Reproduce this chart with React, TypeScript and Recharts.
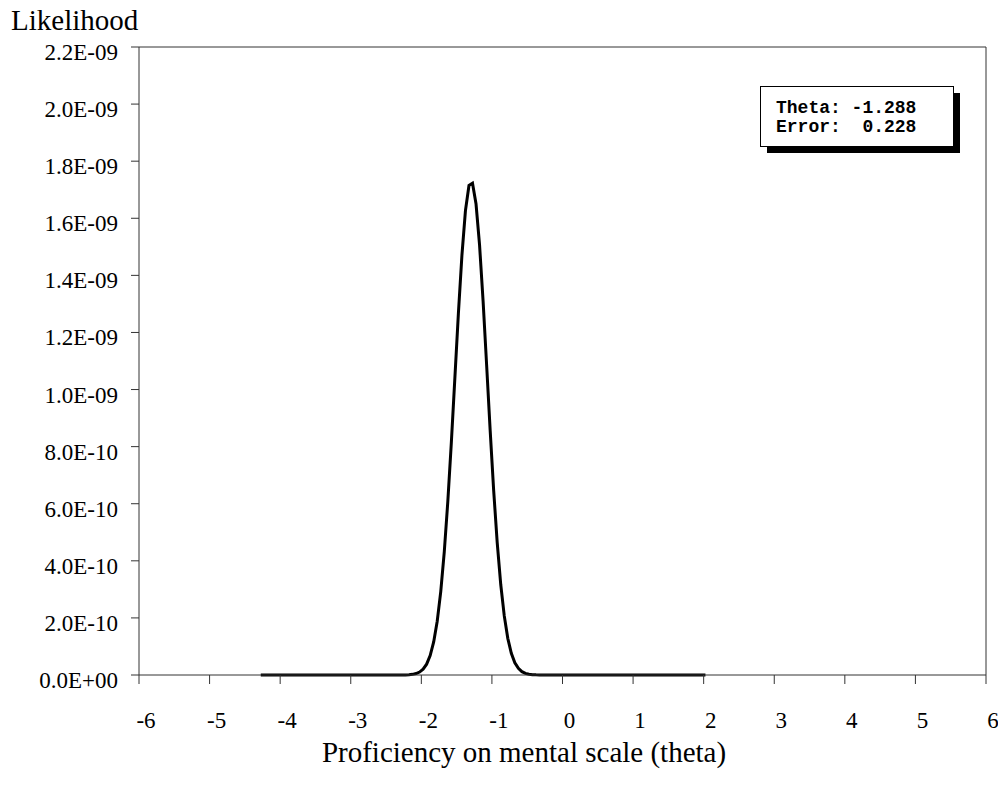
import React from "react";
import { LineChart, Line, XAxis, YAxis, ReferenceLine, Customized } from "recharts";

// theta grid
const thetaValues = [
  -4.275, -3.775, -3.275, -2.775, -2.475, -2.375, -2.325, -2.275, -2.225, -2.175,
  -2.125, -2.075, -2.025, -1.975, -1.925, -1.875, -1.825, -1.775, -1.725, -1.675,
  -1.625, -1.575, -1.525, -1.475, -1.425, -1.375, -1.325, -1.275, -1.225, -1.175,
  -1.125, -1.075, -1.025, -0.975, -0.925, -0.875, -0.825, -0.775, -0.725, -0.675,
  -0.625, -0.575, -0.525, -0.475, -0.425, -0.375, -0.325, -0.275, -0.225, 0.025,
  0.525, 1.025, 1.525, 2.025,
];

// likelihood values
const likelihoodValues = [
  0, 0, 0, 0, 0, 2.3e-14, 6.4e-14, 1.7e-13, 4.2e-13, 1.0e-12,
  2.3e-12, 5.0e-12, 1.03e-11, 2.03e-11, 3.8e-11, 6.81e-11, 1.16e-10, 1.886e-10, 2.922e-10, 4.315e-10,
  6.07e-10, 8.14e-10, 1.04e-9, 1.267e-9, 1.47e-9, 1.627e-9, 1.715e-9, 1.723e-9, 1.65e-9, 1.506e-9,
  1.31e-9, 1.086e-9, 8.58e-10, 6.46e-10, 4.64e-10, 3.17e-10, 2.07e-10, 1.284e-10, 7.6e-11, 4.29e-11,
  2.31e-11, 1.18e-11, 5.8e-12, 2.7e-12, 1.2e-12, 5e-13, 2e-13, 1e-13, 0, 0,
  0, 0, 0, 0,
];

const xTicks = [-6, -5, -4, -3, -2, -1, 0, 1, 2, 3, 4, 5, 6];
const yTicks = [0, 2e-10, 4e-10, 6e-10, 8e-10, 1e-9, 1.2e-9, 1.4e-9, 1.6e-9, 1.8e-9, 2.0e-9, 2.2e-9];

const yTitle = "Likelihood";
const xTitle = "Proficiency on mental scale (theta)";
const boxLines = ["Theta: -1.288", "Error:  0.228"];

const data = thetaValues.map((t, i) => ({ theta: t, lik: likelihoodValues[i] }));

const fmtY = (v: number) => {
  if (v === 0) return "0.0E+00";
  const [m, e] = v.toExponential(1).split("e");
  const n = parseInt(e, 10);
  const sign = n < 0 ? "-" : "+";
  const abs = Math.abs(n);
  return `${m}E${sign}${abs < 10 ? "0" + abs : abs}`;
};

const AXIS = "#333";
const SERIF = "'Liberation Serif', 'Times New Roman', serif";
const TICK_FS = 23;

const XTick = (props: any) => {
  const { x, y, payload } = props;
  return (
    <text x={x + 7} y={y + 44} textAnchor="middle" fontFamily={SERIF} fontSize={TICK_FS} fill="#000">
      {String(payload.value)}
    </text>
  );
};

const YTick = (props: any) => {
  const { x, y, payload } = props;
  return (
    <text x={x} y={y + 13} textAnchor="end" fontFamily={SERIF} fontSize={TICK_FS} fill="#000">
      {fmtY(payload.value)}
    </text>
  );
};

export default function App() {
  return (
    <div style={{ position: "absolute", left: 0, top: 0, width: 998, height: 787, background: "#fff" }}>
      <LineChart
        width={998}
        height={787}
        data={data}
        margin={{ top: 47, right: 12, bottom: 0, left: 0 }}
      >
        <XAxis
          dataKey="theta"
          type="number"
          domain={[-6, 6]}
          ticks={xTicks}
          interval={0}
          height={112}
          stroke={AXIS}
          tickSize={9}
          tickMargin={0}
          tick={<XTick />}
          tickLine={{ stroke: AXIS }}
        />
        <YAxis
          type="number"
          domain={[0, 2.2e-9]}
          ticks={yTicks}
          interval={0}
          width={139}
          stroke={AXIS}
          tickSize={8}
          tickMargin={13}
          tick={<YTick />}
          tickLine={{ stroke: AXIS }}
        />
        <ReferenceLine y={2.2e-9} stroke={AXIS} strokeWidth={1} />
        <ReferenceLine x={6} stroke={AXIS} strokeWidth={1} />
        <Line
          dataKey="lik"
          type="linear"
          stroke="#000"
          strokeWidth={3}
          dot={false}
          activeDot={false}
          isAnimationActive={false}
        />
        <Customized
          component={
            <g>
              <text x={11} y={30} fontFamily={SERIF} fontSize={29} fill="#000">
                {yTitle}
              </text>
              <text x={524} y={762} fontFamily={SERIF} fontSize={29} fill="#000" textAnchor="middle">
                {xTitle}
              </text>
              <rect x={767} y={93} width={193} height={60} fill="#000" />
              <rect x={760.5} y={86.5} width={193} height={60} fill="#fff" stroke="#000" strokeWidth={1} />
              {boxLines.map((l, i) => (
                <text
                  key={i}
                  x={776}
                  y={113 + i * 19}
                  fontFamily="'Liberation Mono', 'Courier New', monospace"
                  fontWeight="bold"
                  fontSize={18}
                  fill="#000"
                  style={{ whiteSpace: "pre" }}
                  xmlSpace="preserve"
                >
                  {l}
                </text>
              ))}
            </g>
          }
        />
      </LineChart>
    </div>
  );
}
